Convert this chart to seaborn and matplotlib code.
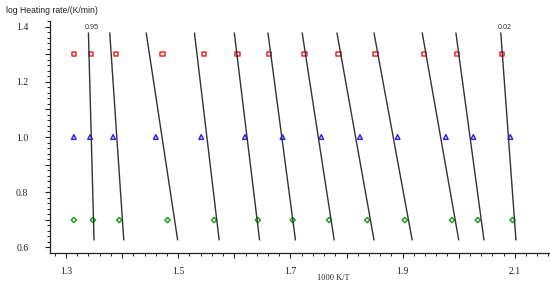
import matplotlib
matplotlib.use("Agg")
import matplotlib.pyplot as plt
import pandas as pd
import seaborn as sns
from matplotlib.ticker import MultipleLocator

# log10 of heating rates 20, 10, 5 K/min
log_rates = [1.301, 1.0, 0.699]

# 1000/T positions of the points
x_red = [1.314, 1.345, 1.389, 1.472, 1.546, 1.606, 1.662, 1.725, 1.786, 1.852, 1.938, 1.997, 2.077]
x_blue = [1.314, 1.343, 1.384, 1.460, 1.541, 1.619, 1.686, 1.755, 1.824, 1.891, 1.977, 2.026, 2.092]
x_green = [1.314, 1.348, 1.395, 1.481, 1.564, 1.642, 1.704, 1.769, 1.837, 1.904, 1.988, 2.034, 2.096]

# isoconversional lines: end points
line_x_top = [1.340, 1.378, 1.443, 1.529, 1.600, 1.660, 1.721, 1.783, 1.849, 1.935, 1.995, 2.075]
line_x_bottom = [1.350, 1.403, 1.499, 1.573, 1.645, 1.709, 1.778, 1.849, 1.917, 2.000, 2.045, 2.102]
line_y_top = 1.377
line_y_bottom = 0.627
line_labels = ["0.95", "", "", "", "", "", "", "", "", "", "", "0.02"]

x_tick_labels = ["1.3", "1.5", "1.7", "1.9", "2.1"]
y_tick_labels = ["0.6", "0.8", "1.0", "1.2", "1.4"]

pts = pd.DataFrame({
    "x": x_red + x_blue + x_green,
    "y": [log_rates[0]] * len(x_red) + [log_rates[1]] * len(x_blue) + [log_rates[2]] * len(x_green),
    "rate": ["20"] * len(x_red) + ["10"] * len(x_blue) + ["5"] * len(x_green),
})

lines = pd.DataFrame({
    "x": line_x_bottom + line_x_top,
    "y": [line_y_bottom] * len(line_x_bottom) + [line_y_top] * len(line_x_top),
    "line": list(range(len(line_x_bottom))) * 2,
})


def every_other(labels, start):
    # label every 0.2, leave the 0.1 ticks blank
    def fmt(v, pos):
        k = (v - start) / 0.2
        i = int(round(k))
        if abs(k - i) < 1e-6 and 0 <= i < len(labels):
            return labels[i]
        return ""
    return plt.FuncFormatter(fmt)


sns.set_style("ticks")
plt.rcParams["font.family"] = ["Liberation Serif", "DejaVu Serif"]

fig = plt.figure(figsize=(5.5, 2.91), dpi=100)
ax = fig.add_axes([50 / 550, 1 - 252.7 / 291, 500 / 550, (252.7 - 21) / 291])

sns.lineplot(data=lines, x="x", y="y", units="line", estimator=None, sort=False,
             color="#333333", linewidth=1.0, ax=ax)

colors = {"20": "#ee2a2a", "10": "#2c2cf0", "5": "#22a022"}
markers = {"20": "s", "10": "^", "5": "D"}
sizes = {"20": 10, "10": 11, "5": 7}
for rate in ["20", "10", "5"]:
    sub = pts[pts["rate"] == rate]
    sns.scatterplot(data=sub, x="x", y="y", marker=markers[rate], s=sizes[rate],
                    facecolor="none", edgecolor=colors[rate], linewidth=1.1, ax=ax)

for xt, lab in zip(line_x_top, line_labels):
    if lab:
        ax.annotate(lab, (xt, line_y_top), xytext=(2.5, 1.5), textcoords="offset points",
                    ha="center", va="bottom", fontsize=5.2, color="#333333",
                    family=["Liberation Sans", "DejaVu Sans"])

ax.set_xlim(1.2715, 2.1627)
ax.set_ylim(0.5808, 1.4203)

ax.xaxis.set_major_locator(MultipleLocator(0.1))
ax.xaxis.set_minor_locator(MultipleLocator(0.02))
ax.xaxis.set_major_formatter(every_other(x_tick_labels, 1.3))
ax.yaxis.set_major_locator(MultipleLocator(0.1))
ax.yaxis.set_minor_locator(MultipleLocator(0.02))
ax.yaxis.set_major_formatter(every_other(y_tick_labels, 0.6))

ax.tick_params(axis="both", which="major", direction="out", length=3.6, width=0.8,
               labelsize=7, colors="#222222")
ax.tick_params(axis="both", which="minor", direction="out", length=2.2, width=0.7, colors="#222222")
ax.tick_params(axis="x", which="major", pad=7)
ax.tick_params(axis="y", which="major", pad=12)

sns.despine(ax=ax)
for side in ["left", "bottom"]:
    ax.spines[side].set_linewidth(0.9)
    ax.spines[side].set_color("#222222")

ax.set_xlabel("")
ax.set_ylabel("")
fig.text(333 / 550, 1 - 277.7 / 291, "1000 K/T", ha="center", va="center", fontsize=6)
fig.text(6 / 550, 1 - 10.7 / 291, "log Heating rate/(K/min)", ha="left", va="center",
         fontsize=6.2, family=["Liberation Sans", "DejaVu Sans"], color="#222222")

fig.savefig("out.png", dpi=100)
